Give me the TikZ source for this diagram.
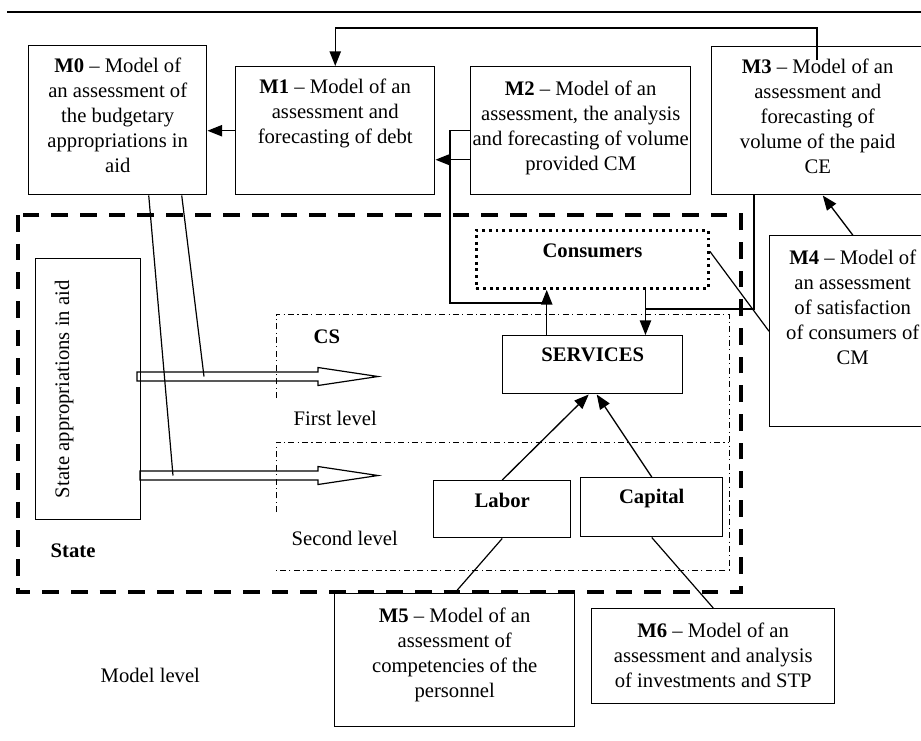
\documentclass[tikz,border=0pt]{standalone}
\usepackage{fontspec}
\setmainfont{Liberation Serif}
\usetikzlibrary{arrows.meta,positioning,calc}

\tikzset{every picture/.style={line width=1pt}}
\tikzset{
  sz/.style 2 args={minimum width=#1*0.75pt, minimum height=#2*0.75pt},
  frame/.style={draw, line width=1.1pt, inner sep=0pt, anchor=north west},
  txt/.style={align=center, inner sep=0pt, font=\fontsize{15.5}{18.75}\selectfont},
  arr/.style={-{Triangle[length=11pt,width=8.5pt]}, line width=1pt},
  thin/.style={line width=0.9pt},
  bigdash/.style={line width=2.4pt, dash pattern=on 12.5pt off 9pt},
  dashdot/.style={line width=0.75pt, dash pattern=on 4.5pt off 2.5pt on 0.8pt off 2.5pt},
  dotbox/.style={line width=2.2pt, dash pattern=on 2.2pt off 2.8pt}
}

\begin{document}
\begin{tikzpicture}[x=0.75pt,y=0.75pt,yscale=-1,xscale=1]
\useasboundingbox (0,0) rectangle (921,740);
\clip (0,0) rectangle (921,740);

%Straight Lines: top rule
\draw (7,12) -- (921,12);

%Shape: dashed outer region
\draw [bigdash] (18,215) rectangle (741,592);
%Shape: CS region
\draw [dashdot] (276,398) -- (276,314) -- (729,314) -- (729,570) -- (276,570);
\draw [dashdot] (276,512) -- (276,442) -- (729,442);

%Model boxes
\node [frame, sz={178}{149}] (m0) at (28,45) {};
\node [frame, sz={199}{128}] (m1) at (235,66) {};
\node [frame, sz={220}{128}] (m2) at (470,66) {};
\node [frame, sz={212}{148}] (m3) at (711,46) {};
\node [frame, sz={166}{191}] (m4) at (769,235) {};
\node [frame, sz={240}{133}] (m5) at (334,593) {};
\node [frame, sz={243}{95}] (m6) at (591,608) {};

%Inner boxes
\node [frame, sz={105}{261}] (state) at (35,258) {};
\node [frame, dotbox, sz={232}{58}] (cons) at (475,229) {};
\node [frame, sz={180}{58}] (serv) at (502,335) {};
\node [frame, sz={137}{57}] (labor) at (433,480) {};
\node [frame, sz={142}{59}] (capital) at (580,477) {};

% Text Node
\node [txt, below=9.5pt of m0.north] (m0t) {\textbf{M0} -- Model of\\an assessment of\\the budgetary\\appropriations in\\aid};
% Text Node
\node [txt, below=9.5pt of m1.north] (m1t) {\textbf{M1} -- Model of an\\assessment and\\forecasting of debt};
% Text Node
\node [txt, below=10.5pt of m2.north] (m2t) {\textbf{M2} -- Model of an\\assessment, the analysis\\and forecasting of volume\\provided CM};
% Text Node
\node [txt, below=9.5pt of m3.north] (m3t) {\textbf{M3} -- Model of an\\assessment and\\forecasting of\\volume of the paid\\CE};
% Text Node
\node [txt, below=11pt of m4.north] (m4t) {\textbf{M4} -- Model of\\an assessment\\of satisfaction\\of consumers of\\CM};
% Text Node
\node [txt, below=11pt of m5.north] (m5t) {\textbf{M5} -- Model of an\\assessment of\\competencies of the\\personnel};
% Text Node
\node [txt, below=10.5pt of m6.north] (m6t) {\textbf{M6} -- Model of an\\assessment and analysis\\of investments and STP};
% Text Node
\node [txt, below=10.5pt of cons.north] (const) {\textbf{Consumers}};
% Text Node
\node [txt, below=9pt of serv.north] (servt) {\textbf{SERVICES}};
% Text Node
\node [txt, below=9pt of labor.north] (labort) {\textbf{Labor}};
% Text Node
\node [txt, below=8.5pt of capital.north] (capitalt) {\textbf{Capital}};
% Text Node
\node [txt, rotate=90] (statet) at ($(state.center)+(-24,0)$) {State appropriations in aid};
% Text Node
\node [txt, anchor=base west] (statel) at (50,557) {\textbf{State}};
% Text Node
\node [txt, anchor=base west] (csl) at (313,343) {\textbf{CS}};
% Text Node
\node [txt, anchor=base west] (firstl) at (293,425) {First level};
% Text Node
\node [txt, anchor=base west] (secondl) at (291,545) {Second level};
% Text Node
\node [txt, anchor=base west] (modell) at (100,682) {Model level};

%Hollow arrows from State
\coordinate (tip1) at (378,376.5);
\coordinate (tip2) at (378,475.5);
\draw [thin] (tip1) -- ++(-60,-9) -- ++(0,4.5) -- ++(-181,0) -- ++(0,9) -- ++(181,0) -- ++(0,4.5) -- cycle;
\draw [thin] (tip2) -- ++(-60,-9) -- ++(0,4.5) -- ++(-178,0) -- ++(0,9) -- ++(178,0) -- ++(0,4.5) -- cycle;

%Lines from M0 to the arrows
\coordinate (hit1) at (204,376.5);
\coordinate (hit2) at (173,475.5);
\draw [thin] ($(m0.south)+(31,0)$) -- (hit2);
\draw [thin] ($(m0.south)+(64,0)$) -- (hit1);

%Connectors between models
\coordinate (m3in) at (817,60);
\draw [arr] (m3in) -- ++(0,-32) -| (m1.north);
\draw [arr] ([yshift=21.75pt]m2.west) -- ([yshift=21.75pt]m1.east);
\draw [arr] (m1.west) -- (m1.west -| m0.east);

%Services and consumers
\coordinate (upst) at ($(serv.north)+(-46,0)$);
\draw [arr] (upst) -- (upst |- cons.south);
\draw (m2.west) -- ++(-20,0) |- ($(upst)+(0,-32)$);
\coordinate (dnst) at ($(cons.south)+(53,0)$);
\draw [arr] (dnst) -- (dnst |- serv.north);
\draw ($(dnst)+(0,19)$) -| ($(m3.south west)+(43,0)$);
\draw [arr] (m4.north) -- ($(m3.south)+(5,0)$);
\draw [thin] ($(cons.east)+(0,-8)$) -- (m4.west);

%Labor and capital
\draw [arr] (labor.north) -- ($(serv.south)+(-4,0)$);
\draw [arr] (capital.north) -- ($(serv.south)+(4,0)$);
\draw [thin] (labor.south) -- (m5.north);
\draw [thin] (capital.south) -- (m6.north);

\end{tikzpicture}
\end{document}
